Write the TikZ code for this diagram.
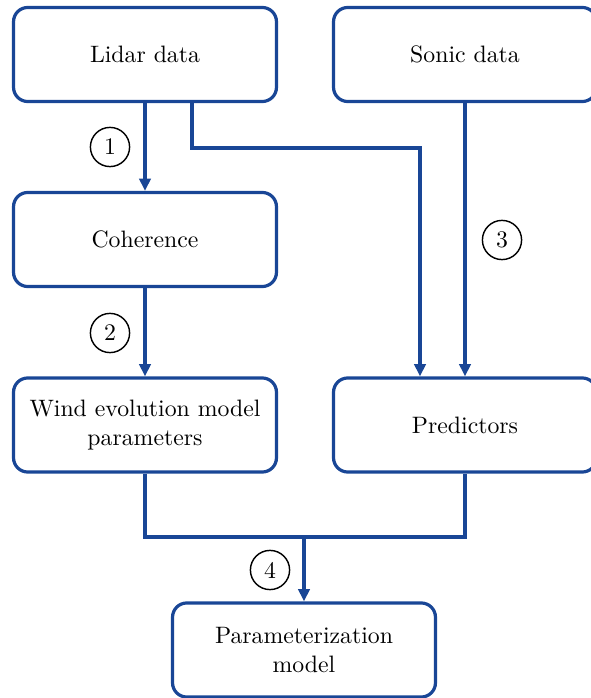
\documentclass[tikz,border=0pt]{standalone}
\usepackage{tikz}
\usetikzlibrary{arrows.meta}

\definecolor{flowblue}{RGB}{25,70,150}
\tikzset{
  box/.style={draw=flowblue, line width=1.35pt, rounded corners=6pt, fill=white,
    minimum width=110.7pt, minimum height=39.6pt, align=center},
  numcirc/.style={draw, circle, line width=0.6pt, minimum size=16.5pt, inner sep=0pt},
  flow/.style={draw=flowblue, line width=1.35pt},
  flowarr/.style={flow, -{Triangle[length=5.2pt,width=4.8pt]}}
}

\begin{document}
\begin{tikzpicture}[x=0.421pt, y=-0.421pt]
	\useasboundingbox (0,0) rectangle (591,698);
	% boxes
	\node[box] (lidar) at (145,54.5) {Lidar data};
	\node[box] (sonic) at (465,54.5) {Sonic data};
	\node[box] (coherence) at (145,239.5) {Coherence};
	\node[box] (windpar) at (145,425) {Wind evolution model\\parameters};
	\node[box] (predictors) at (465,425) {Predictors};
	\node[box] (paramodel) at (304,650) {Parameterization\\model};
	% step numbers
	\node[numcirc] (n1) at (110,147) {1};
	\node[numcirc] (n2) at (110,333) {2};
	\node[numcirc] (n3) at (502,240) {3};
	\node[numcirc] (n4) at (270,570) {4};
	% connectors
	\coordinate (lidtap) at (192,148);
	\coordinate (predtap) at (420,148);
	\coordinate (join) at (304,537);
	\draw[flowarr] (lidar) -- (coherence);
	\draw[flowarr] (lidar.south -| lidtap) -- (lidtap) -- (predtap) -- (predictors.north -| predtap);
	\draw[flowarr] (sonic) -- (predictors);
	\draw[flowarr] (coherence) -- (windpar);
	\draw[flow] (windpar.south) |- (join) -| (predictors.south);
	\draw[flowarr] (join) -- (paramodel);
\end{tikzpicture}
\end{document}
